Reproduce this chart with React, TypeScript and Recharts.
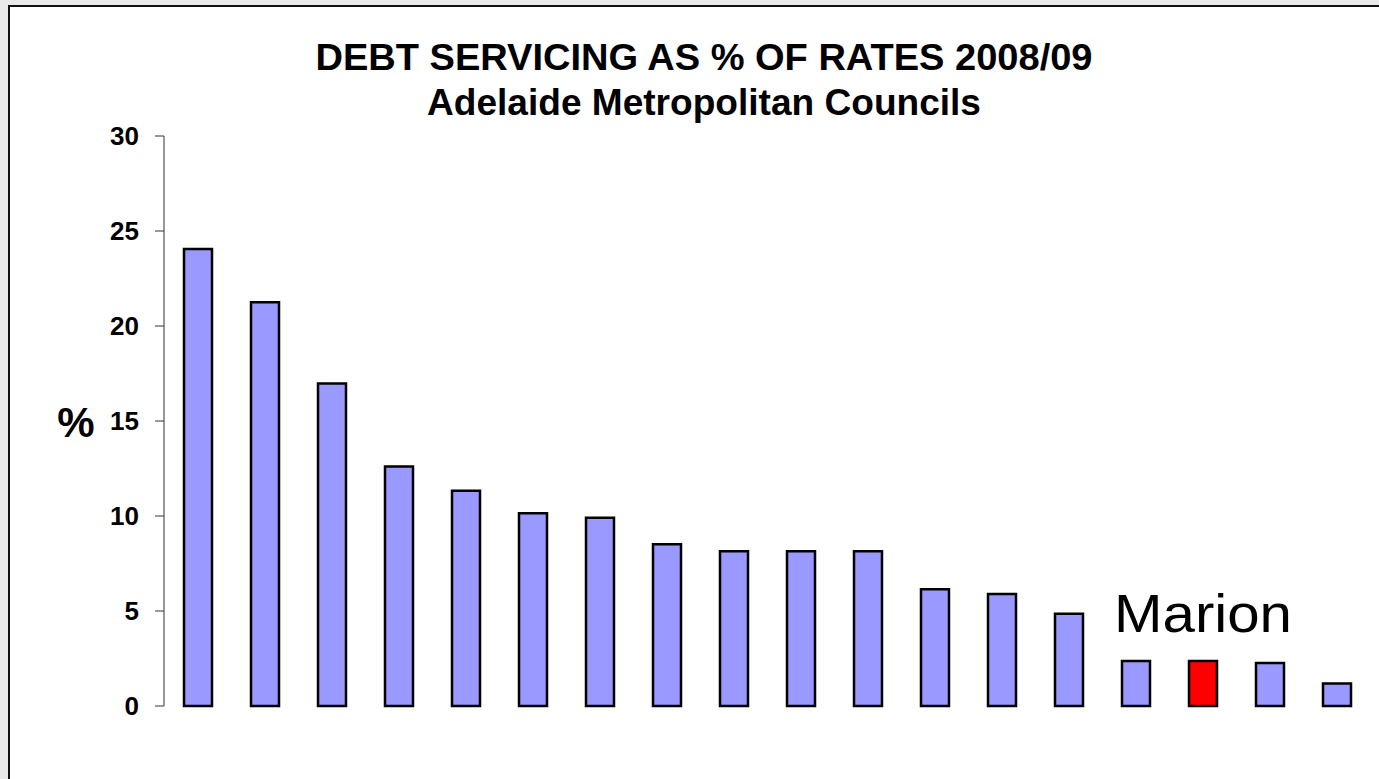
import { BarChart, Bar, Cell, XAxis, YAxis, LabelList, Customized } from 'recharts';

// council order as plotted (names are not shown on the chart)
const councils = [
  'C01', 'C02', 'C03', 'C04', 'C05', 'C06', 'C07', 'C08', 'C09',
  'C10', 'C11', 'C12', 'C13', 'C14', 'C15', 'Marion', 'C17', 'C18',
];
const debtPct = [
  24.05, 21.25, 16.98, 12.61, 11.33, 10.14, 9.91, 8.51, 8.14,
  8.14, 8.14, 6.14, 5.89, 4.86, 2.37, 2.37, 2.26, 1.19,
];
const yTicks = [0, 5, 10, 15, 20, 25, 30];
const highlight = 'Marion';

const FONT = '"Liberation Sans", Arial, sans-serif';

const data = councils.map((name, i) => ({ name, value: debtPct[i] }));

function Titles() {
  return (
    <g fontFamily={FONT} fontWeight="bold" fill="#000" textAnchor="middle">
      <text x={694} y={63} fontSize={36} textLength={777} lengthAdjust="spacingAndGlyphs">
        DEBT SERVICING AS % OF RATES 2008/09
      </text>
      <text x={694} y={108} fontSize={36} textLength={554} lengthAdjust="spacingAndGlyphs">
        Adelaide Metropolitan Councils
      </text>
      <text x={66} y={430} fontSize={42}>%</text>
    </g>
  );
}

function MarionLabel(props: any) {
  const { x, y, width, value } = props;
  if (value !== highlight) return null;
  return (
    <text
      x={x + width / 2}
      y={y - 29}
      textAnchor="middle"
      fontFamily={FONT}
      fontSize={54}
      textLength={178}
      lengthAdjust="spacingAndGlyphs"
      fill="#000"
    >
      {value}
    </text>
  );
}

export default function App() {
  return (
    <div style={{ position: 'fixed', left: 0, top: 0, width: 1379, height: 779, background: '#e9e9e9', overflow: 'hidden' }}>
      <div style={{ position: 'absolute', left: 8, top: 5, width: 1380, height: 790, border: '2px solid #111', background: '#fff' }}>
        <BarChart
          width={1369}
          height={772}
          data={data}
          margin={{ top: 129, right: 9, bottom: 73, left: 0 }}
          barCategoryGap={0}
        >
          <XAxis dataKey="name" hide />
          <YAxis
            width={154}
            domain={[0, 30]}
            ticks={yTicks}
            interval={0}
            axisLine={{ stroke: '#333', strokeWidth: 1 }}
            tickLine={{ stroke: '#333', strokeWidth: 1 }}
            tickSize={9}
            tickMargin={16}
            tick={{ fill: '#000', fontSize: 26, fontWeight: 'bold', fontFamily: FONT }}
          />
          <Bar dataKey="value" barSize={28} stroke="#000" strokeWidth={2.5} isAnimationActive={false}>
            {data.map((d) => (
              <Cell key={d.name} fill={d.name === highlight ? '#ff0000' : '#9999ff'} />
            ))}
            <LabelList dataKey="name" content={MarionLabel} />
          </Bar>
          <Customized component={Titles} />
        </BarChart>
      </div>
    </div>
  );
}
